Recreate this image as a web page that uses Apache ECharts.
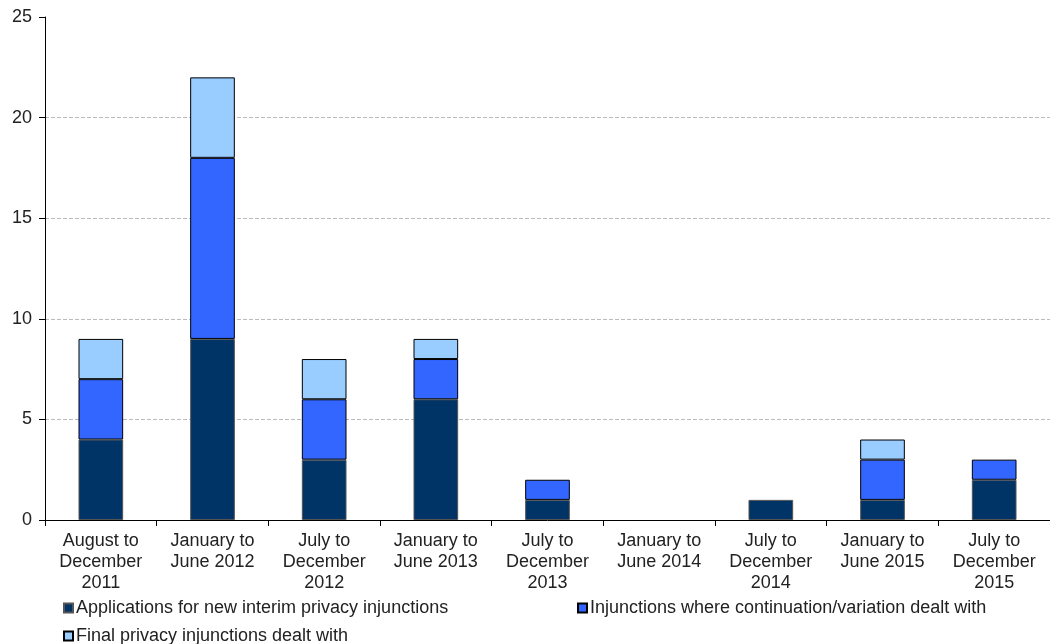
<!DOCTYPE html>
<html><head><meta charset="utf-8">
<script src="https://cdn.jsdelivr.net/npm/echarts@6/dist/echarts.min.js"></script>
<style>html,body{margin:0;padding:0;background:#fff}#c{width:1050px;height:644px}</style>
</head><body><div id="c"></div>
<script>
const categories = ["August to\nDecember\n2011","January to\nJune 2012","July to\nDecember\n2012","January to\nJune 2013","July to\nDecember\n2013","January to\nJune 2014","July to\nDecember\n2014","January to\nJune 2015","July to\nDecember\n2015"];
const seriesNames = ["Applications for new interim privacy injunctions","Injunctions where continuation/variation dealt with","Final privacy injunctions dealt with"];
const applications = [4, 9, 3, 6, 1, 0, 1, 1, 2];
const continuation = [3, 9, 3, 2, 1, 0, 0, 2, 1];
const finalInj = [2, 4, 2, 1, 0, 0, 0, 1, 0];
const yTicks = [0, 5, 10, 15, 20, 25];

const hideZero = arr => arr.map(v => v === 0 ? null : v);
const chart = echarts.init(document.getElementById('c'));
const font = 'Liberation Sans, Arial, sans-serif';
const legendCommon = {orient:'horizontal', icon:'rect', itemWidth:9, itemHeight:9, itemGap:10,
  textStyle:{fontFamily:font, fontSize:18, color:'#222', padding:[0,0,0,-2]}};
chart.setOption({
  animation:false,
  grid:{left:45, right:-7, top:17, bottom:124, containLabel:false},
  legend:[
    Object.assign({data:[seriesNames[0]], left:58, top:594}, legendCommon),
    Object.assign({data:[seriesNames[1]], left:572, top:594}, legendCommon),
    Object.assign({data:[seriesNames[2]], left:58, top:622}, legendCommon)
  ],
  xAxis:{type:'category', data:categories,
    axisLine:{lineStyle:{color:'#000', width:1}},
    axisTick:{show:true, length:6, lineStyle:{color:'#000'}},
    axisLabel:{fontFamily:font, fontSize:18, color:'#222', lineHeight:21, margin:11, interval:0}},
  yAxis:{type:'value', min:yTicks[0], max:yTicks[yTicks.length-1], interval:5,
    axisLine:{show:true, lineStyle:{color:'#000'}},
    axisTick:{show:true, length:6, lineStyle:{color:'#000'}},
    axisLabel:{fontFamily:font, fontSize:18, color:'#222', margin:13},
    splitLine:{show:true, lineStyle:{type:'dashed', width:1, color:['transparent','#bbb','#bbb','#bbb','#bbb','transparent']}}},
  series:[
    {name:seriesNames[0], type:'bar', stack:'a', data:hideZero(applications), barWidth:'40%',
      itemStyle:{color:'#003366', borderColor:'#555', borderWidth:1}},
    {name:seriesNames[1], type:'bar', stack:'a', data:hideZero(continuation), barWidth:'40%',
      itemStyle:{color:'#3366FF', borderColor:'#000', borderWidth:1}},
    {name:seriesNames[2], type:'bar', stack:'a', data:hideZero(finalInj), barWidth:'40%',
      itemStyle:{color:'#99CCFF', borderColor:'#000', borderWidth:1}}
  ]
});
</script></body></html>
